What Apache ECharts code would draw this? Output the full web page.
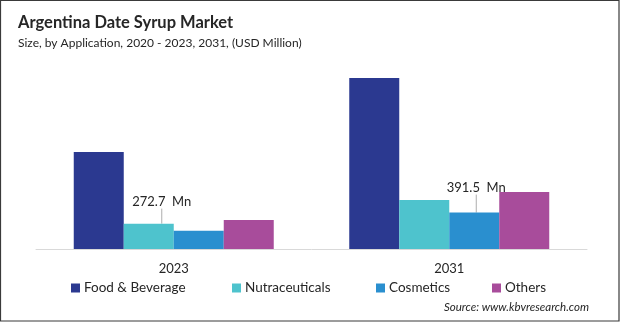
<!DOCTYPE html>
<html>
<head>
<meta charset="utf-8">
<script src="https://cdn.jsdelivr.net/npm/echarts@6/dist/echarts.min.js"></script>
<style>
  html, body { margin: 0; padding: 0; background: #fff; }
  #chart { width: 620px; height: 322px; }
</style>
</head>
<body>
<div id="chart"></div>
<script>
// Argentina date syrup market size by application (USD Million)
const years = ['2023', '2031'];
const foodBeverage = [1043, 1838];
const nutraceuticals = [272.7, 527];
const cosmetics = [197, 391.5];
const others = [312, 613];

const FONT = 'Lato, "Noto Sans", sans-serif';
const colors = ['#2b3990', '#4ec3cd', '#2a8fcf', '#a84c9b'];

// only one bar per series carries a value callout
function labelled(v) {
  return { value: v, label: { show: true } };
}

const seriesDefs = [
  { name: 'Food & Beverage', data: foodBeverage },
  { name: 'Nutraceuticals', data: [labelled(nutraceuticals[0]), nutraceuticals[1]], shift: { dx: 13, dy: -10 } },
  { name: 'Cosmetics', data: [cosmetics[0], labelled(cosmetics[1])], shift: { dx: 2, dy: -13 } },
  { name: 'Others', data: others }
];

const chart = echarts.init(document.getElementById('chart'), null, { renderer: 'canvas' });

const legendLefts = [71, 232, 376, 492];

chart.setOption({
  animation: false,
  color: colors,
  textStyle: { fontFamily: FONT },
  title: {
    text: 'Argentina Date Syrup Market',
    subtext: 'Size, by Application, 2020 - 2023, 2031, (USD Million)',
    left: 13,
    top: 9,
    itemGap: 6,
    textStyle: { fontFamily: FONT, fontSize: 16.5, fontWeight: 'bold', color: '#262626' },
    subtextStyle: { fontFamily: FONT, fontSize: 12, color: '#262626' }
  },
  legend: seriesDefs.map((s, i) => ({
    data: [s.name],
    left: legendLefts[i],
    top: 281,
    padding: 0,
    icon: 'rect',
    itemWidth: 9,
    itemHeight: 9,
    itemGap: 4,
    textStyle: { fontFamily: FONT, fontSize: 13.5, color: '#262626', padding: [0, 0, 0, -1] }
  })),
  grid: { left: 36, right: 33, top: 63, bottom: 73 },
  xAxis: {
    type: 'category',
    data: years,
    axisLine: { lineStyle: { color: '#d9d9d9', width: 1 } },
    axisTick: { show: false },
    axisLabel: { margin: 13, fontFamily: FONT, fontSize: 13, color: '#262626' }
  },
  yAxis: {
    type: 'value',
    min: 0,
    max: 2000,
    show: false,
    splitLine: { show: false }
  },
  series: seriesDefs.map(s => ({
    name: s.name,
    type: 'bar',
    barWidth: 50,
    barGap: '0%',
    data: s.data,
    label: {
      show: false,
      position: 'top',
      formatter: '{c}  Mn',
      fontFamily: FONT,
      fontSize: 13,
      color: '#262626'
    },
    labelLayout: s.shift || undefined,
    labelLine: { show: true, lineStyle: { color: '#999', width: 0.8 } }
  })),
  graphic: [
    {
      type: 'text',
      right: 31,
      top: 301,
      style: {
        text: 'Source: www.kbvresearch.com',
        font: 'italic 11.5px ' + FONT,
        fill: '#262626'
      }
    },
    {
      type: 'rect',
      shape: { x: 0.5, y: 0.5, width: 618.5, height: 320.5 },
      style: { fill: 'none', stroke: '#3a3a3a', lineWidth: 1.2 },
      silent: true
    }
  ]
});
</script>
</body>
</html>
